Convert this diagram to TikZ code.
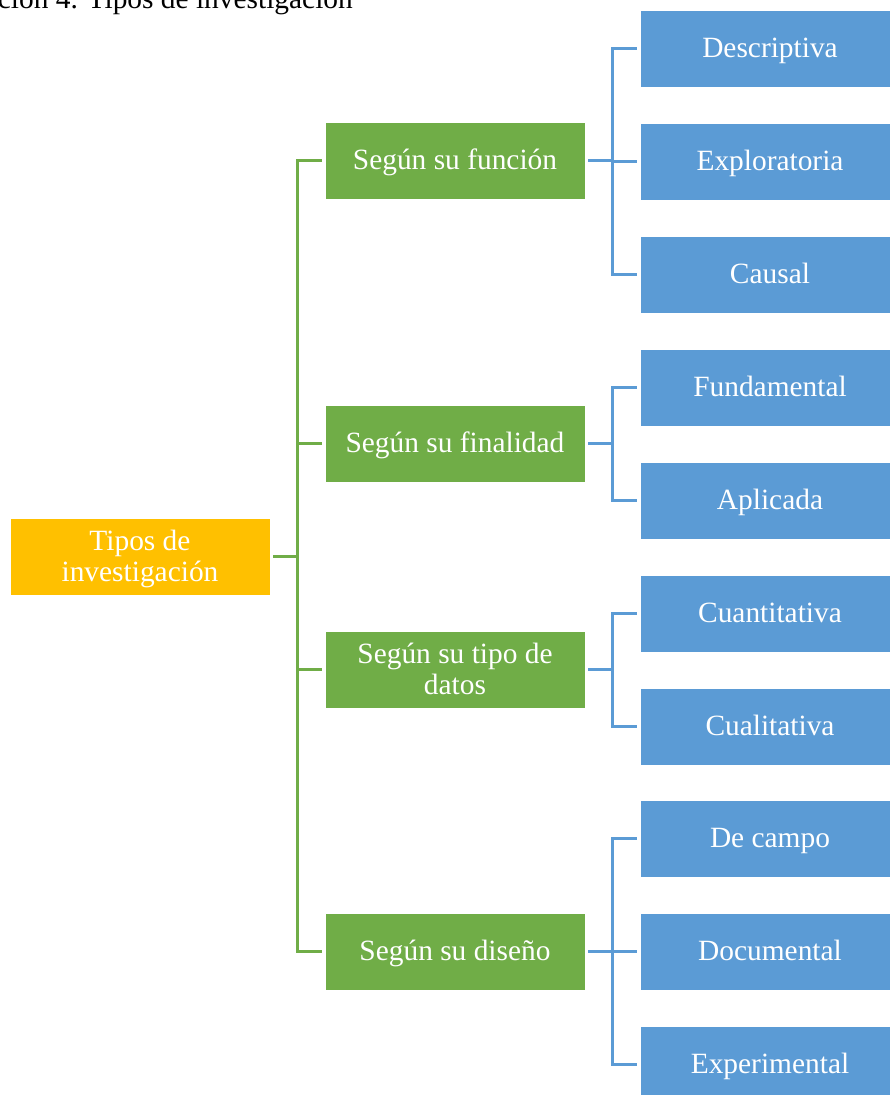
\documentclass[tikz,border=0pt]{standalone}
\usepackage{fontspec}
\setmainfont{Liberation Serif}
\definecolor{rootfill}{HTML}{FFC000}
\definecolor{midfill}{HTML}{70AD47}
\definecolor{leaffill}{HTML}{5B9BD5}
% centred label text, set a little below the box middle
\newcommand\boxtext[1]{\raisebox{-3pt}[\height][\depth]{\begin{tabular}{@{}c@{}}#1\end{tabular}}}
\tikzset{
  box/.style={rectangle, draw=white, line width=0.8pt, inner sep=0pt,
    minimum width=260pt, minimum height=77pt, text=white,
    font=\fontsize{29.4}{31}\selectfont},
  rootbox/.style={box, fill=rootfill},
  midbox/.style={box, fill=midfill},
  leafbox/.style={box, fill=leaffill},
  gline/.style={draw=midfill, line width=2.6pt, shorten >=3pt, shorten <=3pt},
  bline/.style={draw=leaffill, line width=2.6pt, shorten >=3pt, shorten <=3pt},
}
\begin{document}
\begin{tikzpicture}[x=1pt,y=-1pt]
\useasboundingbox (0,0) rectangle (890,1095);
\clip (0,0) rectangle (890,1095);

% caption, partly above the page edge
\node[anchor=base east, inner sep=0pt, font=\fontsize{29.4}{31}\selectfont] (cap) at (353,8) {ción 4. Tipos de investigación};

% root
\node[rootbox] (root) at (140,556.5) {\boxtext{Tipos de\\investigación}};

% second level
\node[midbox] (g1) at (455,160.5) {\boxtext{Según su función}};
\node[midbox] (g2) at (455,443.5) {\boxtext{Según su finalidad}};
\node[midbox] (g3) at (455,669.5) {\boxtext{Según su tipo de\\datos}};
\node[midbox] (g4) at (455,951.5) {\boxtext{Según su diseño}};

% leaves
\node[leafbox] (b1)  at (770,48.5)   {\boxtext{Descriptiva}};
\node[leafbox] (b2)  at (770,161.5)  {\boxtext{Exploratoria}};
\node[leafbox] (b3)  at (770,274.5)  {\boxtext{Causal}};
\node[leafbox] (b4)  at (770,387.5)  {\boxtext{Fundamental}};
\node[leafbox] (b5)  at (770,500.5)  {\boxtext{Aplicada}};
\node[leafbox] (b6)  at (770,613.5)  {\boxtext{Cuantitativa}};
\node[leafbox] (b7)  at (770,726.5)  {\boxtext{Cualitativa}};
\node[leafbox] (b8)  at (770,838.5)  {\boxtext{De campo}};
\node[leafbox] (b9)  at (770,951.5)  {\boxtext{Documental}};
\node[leafbox] (b10) at (770,1064.5) {\boxtext{Experimental}};

% root to second level
\foreach \g in {g1,g2,g3,g4}
  \draw[gline] (root.east) -- ([xshift=27pt]root.east) |- (\g.west);

% second level to leaves
\foreach \b in {b1,b2,b3}
  \draw[bline] (g1.east) -- ([xshift=27pt]g1.east) |- (\b.west);
\foreach \b in {b4,b5}
  \draw[bline] (g2.east) -- ([xshift=27pt]g2.east) |- (\b.west);
\foreach \b in {b6,b7}
  \draw[bline] (g3.east) -- ([xshift=27pt]g3.east) |- (\b.west);
\foreach \b in {b8,b9,b10}
  \draw[bline] (g4.east) -- ([xshift=27pt]g4.east) |- (\b.west);
\end{tikzpicture}
\end{document}
